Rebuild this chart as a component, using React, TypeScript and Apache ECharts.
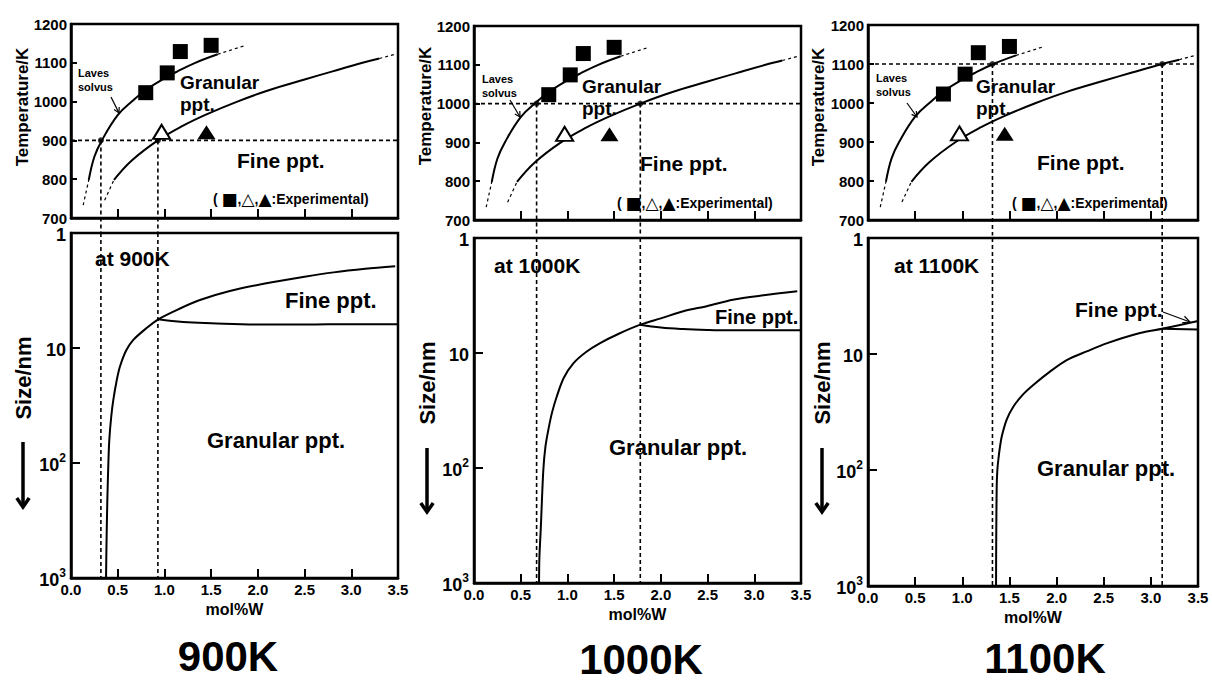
import React, { useEffect, useRef } from 'react';
import * as echarts from 'echarts';

const FONT = '"Liberation Sans", Arial, "DejaVu Sans", sans-serif';

// ---------- data ----------
const panelTemps = [900, 1000, 1100];
const panelTitles = ['900K', '1000K', '1100K'];
const atLabels = ['at 900K', 'at 1000K', 'at 1100K'];
const tempTicks = [700, 800, 900, 1000, 1100, 1200];
const molTicks = [0, 0.5, 1.0, 1.5, 2.0, 2.5, 3.0, 3.5];

// Top diagrams (mol%W, Temperature/K)
const lavesSolid = [[0.19, 798], [0.25, 858], [0.33, 900], [0.5, 965], [0.66, 1002], [0.8, 1030], [1.0, 1060], [1.14, 1078], [1.33, 1100], [1.57, 1122]];
const lavesDashLow = [[0.13, 733], [0.19, 798]];
const lavesDashHigh = [[1.57, 1122], [1.87, 1145]];
const boundarySolid = [[0.46, 798], [0.65, 848], [0.93, 900], [1.2, 938], [1.45, 967], [1.78, 1000], [2.1, 1028], [2.5, 1057], [2.8, 1078], [3.12, 1100], [3.3, 1111]];
const boundaryDashLow = [[0.36, 746], [0.46, 798]];
const boundaryDashHigh = [[3.3, 1111], [3.47, 1122]];
const expSquares = [[0.80, 1023], [1.03, 1074], [1.17, 1129], [1.50, 1145]];
const expOpenTriangles = [[0.97, 922]];
const expFilledTriangles = [[1.45, 921]];
const crossings = [
  [0.32, 0.93],
  [0.67, 1.78],
  [1.32, 3.12],
];

// Bottom diagrams (mol%W, Size/nm)
const sizeUpper = [
  [[0.375, 1000], [0.38, 500], [0.389, 209], [0.4, 100], [0.41, 63], [0.43, 40], [0.453, 28.3], [0.49, 19], [0.524, 14.5], [0.59, 10.5], [0.667, 8.5], [0.8, 6.8], [0.934, 5.63], [1.15, 4.6], [1.38, 3.83], [1.7, 3.2], [2.09, 2.74], [2.5, 2.4], [2.81, 2.2], [3.15, 2.05], [3.47, 1.95]],
  [[0.696, 1000], [0.7, 600], [0.714, 346], [0.742, 104], [0.765, 65], [0.795, 46.8], [0.835, 33], [0.885, 24], [0.96, 16.5], [1.063, 12.3], [1.2, 9.8], [1.35, 8.2], [1.55, 6.8], [1.78, 5.67], [2.0, 5.0], [2.24, 4.34], [2.5, 3.9], [2.77, 3.44], [3.1, 3.15], [3.46, 2.91]],
  [[1.358, 1000], [1.36, 400], [1.365, 139], [1.372, 100], [1.382, 82], [1.4, 63], [1.418, 51.6], [1.47, 37], [1.541, 28.5], [1.64, 22.5], [1.753, 18.5], [1.93, 14.2], [2.107, 11.3], [2.32, 9.5], [2.53, 8.1], [2.885, 6.6], [3.12, 6.05], [3.5, 5.2]],
];
const sizeLower = [
  [[0.934, 5.63], [1.2, 5.95], [1.5, 6.1], [2.0, 6.25], [2.5, 6.25], [3.0, 6.2], [3.5, 6.2]],
  [[1.78, 5.67], [2.0, 6.0], [2.24, 6.19], [2.5, 6.3], [2.77, 6.35], [3.1, 6.35], [3.5, 6.35]],
  [[3.12, 6.05], [3.5, 6.15]],
];

// ---------- layout ----------
const topGrids = [
  { left: 71, top: 24, width: 327, height: 194 },
  { left: 474, top: 26, width: 327, height: 194 },
  { left: 868, top: 25, width: 330, height: 195 },
];
const botGrids = [
  { left: 71, top: 233, width: 327, height: 345 },
  { left: 474, top: 238, width: 327, height: 345 },
  { left: 868, top: 238, width: 330, height: 348 },
];

function txt(x: number, y: number, text: string, size: number, align = 'left', rotation = 0, rich?: any) {
  const style: any = { text, fill: '#000', fontSize: size, fontWeight: 'bold', fontFamily: FONT, align, verticalAlign: 'middle' };
  if (rich) style.rich = rich;
  return { type: 'text', x, y, rotation, silent: true, z: 20, style };
}

function arrow(x1: number, y1: number, x2: number, y2: number, head: number, w: number, spread = 0.45) {
  const a = Math.atan2(y2 - y1, x2 - x1);
  const h1 = [x2 - head * Math.cos(a - spread), y2 - head * Math.sin(a - spread)];
  const h2 = [x2 - head * Math.cos(a + spread), y2 - head * Math.sin(a + spread)];
  return [
    { type: 'line', silent: true, z: 20, shape: { x1, y1, x2, y2 }, style: { stroke: '#000', lineWidth: w } },
    { type: 'polyline', silent: true, z: 20, shape: { points: [h1, [x2, y2], h2] }, style: { stroke: '#000', lineWidth: w, fill: null } },
  ];
}

function lineSeries(data: number[][], ai: number, dashed: boolean, width: number, extra: any = {}) {
  return {
    type: 'line', xAxisIndex: ai, yAxisIndex: ai, data, symbol: 'none', silent: true,
    smooth: dashed ? false : 0.4, z: 3,
    lineStyle: { color: '#000', width, type: dashed ? [3, 3] : 'solid' },
    ...extra,
  };
}

function buildOption() {
  const grid: any[] = [];
  const xAxis: any[] = [];
  const yAxis: any[] = [];
  const series: any[] = [];
  const graphic: any[] = [];

  const axisLine = { show: true, lineStyle: { color: '#000', width: 2.5 } };
  const guide = { color: '#000', width: 1.6, type: [4, 3] };

  for (let p = 0; p < 3; p++) {
    const T = panelTemps[p];
    const ti = 2 * p;
    const bi = 2 * p + 1;
    grid.push({ ...topGrids[p], show: true, borderColor: '#000', borderWidth: 2.5, backgroundColor: 'transparent' });
    grid.push({ ...botGrids[p], show: true, borderColor: '#000', borderWidth: 2.5, backgroundColor: 'transparent' });

    // top axes
    xAxis.push({
      type: 'value', gridIndex: ti, min: molTicks[0], max: molTicks[molTicks.length - 1], interval: 0.5,
      axisLine, axisTick: { show: true, inside: true, length: 9, lineStyle: { color: '#000', width: 2 } },
      axisLabel: { show: false }, splitLine: { show: false },
    });
    yAxis.push({
      type: 'value', gridIndex: ti, min: tempTicks[0], max: tempTicks[tempTicks.length - 1], interval: 100,
      axisLine, axisTick: { show: true, inside: true, length: 6, lineStyle: { color: '#000', width: 2 } },
      axisLabel: {
        color: '#000', fontSize: 15, fontWeight: 'bold', fontFamily: FONT, margin: 4,
        showMinLabel: true, showMaxLabel: true, formatter: (v: number) => String(v),
      },
      splitLine: { show: false },
    });
    // bottom axes
    xAxis.push({
      type: 'value', gridIndex: bi, min: molTicks[0], max: molTicks[molTicks.length - 1], interval: 0.5,
      axisLine, axisTick: { show: true, inside: true, length: 9, lineStyle: { color: '#000', width: 2 } },
      axisLabel: {
        color: '#000', fontSize: 15, fontWeight: 'bold', fontFamily: FONT, margin: 4,
        showMinLabel: true, showMaxLabel: true, formatter: (v: number) => v.toFixed(1),
      },
      splitLine: { show: false },
      name: 'mol%W', nameLocation: 'middle', nameGap: 22,
      nameTextStyle: { color: '#000', fontSize: 16, fontWeight: 'bold', fontFamily: FONT },
    });
    yAxis.push({
      type: 'log', logBase: 10, gridIndex: bi, min: 1, max: 1000, inverse: true,
      axisLine, axisTick: { show: true, inside: true, length: 9, lineStyle: { color: '#000', width: 2 } },
      minorTick: { show: false }, splitLine: { show: false },
      axisLabel: {
        margin: 5, showMinLabel: true, showMaxLabel: true,
        formatter: (v: number) => {
          const e = Math.round(Math.log10(v));
          if (e === 0) return '{b|1}';
          if (e === 1) return '{b|10}';
          return `{b|10}{s|${e}}`;
        },
        rich: {
          b: { fontSize: 18, fontWeight: 'bold', fontFamily: FONT, color: '#000', lineHeight: 22, verticalAlign: 'bottom' },
          s: { fontSize: 12, fontWeight: 'bold', fontFamily: FONT, color: '#000', lineHeight: 12, verticalAlign: 'top' },
        },
      },
    });

    // top series
    series.push(lineSeries(lavesSolid, ti, false, 2));
    series.push(lineSeries(lavesDashLow, ti, true, 1.2));
    series.push(lineSeries(lavesDashHigh, ti, true, 1.2));
    series.push(lineSeries(boundarySolid, ti, false, 2));
    series.push(lineSeries(boundaryDashLow, ti, true, 1.2));
    series.push(lineSeries(boundaryDashHigh, ti, true, 1.2));
    series.push(lineSeries([[molTicks[0], T], [molTicks[molTicks.length - 1], T]], ti, true, 1.6, { lineStyle: guide }));
    crossings[p].forEach((cx) => {
      series.push(lineSeries([[cx, T], [cx, 660]], ti, true, 1.6, { clip: false, lineStyle: guide }));
      series.push(lineSeries([[cx, 1], [cx, 1000]], bi, true, 1.6, { lineStyle: guide }));
    });
    series.push({
      type: 'scatter', xAxisIndex: ti, yAxisIndex: ti, data: crossings[p].map((cx) => [cx, T]),
      symbol: 'circle', symbolSize: 6, itemStyle: { color: '#000' }, silent: true, z: 6,
    });
    series.push({
      type: 'scatter', xAxisIndex: ti, yAxisIndex: ti, data: expSquares,
      symbol: 'rect', symbolSize: 15, itemStyle: { color: '#000', opacity: 1 }, silent: true, z: 6,
    });
    series.push({
      type: 'scatter', xAxisIndex: ti, yAxisIndex: ti, data: expOpenTriangles,
      symbol: 'triangle', symbolSize: [17, 14], itemStyle: { color: '#fff', borderColor: '#000', borderWidth: 2, opacity: 1 }, silent: true, z: 6,
    });
    series.push({
      type: 'scatter', xAxisIndex: ti, yAxisIndex: ti, data: expFilledTriangles,
      symbol: 'triangle', symbolSize: [18, 14], itemStyle: { color: '#000', opacity: 1 }, silent: true, z: 6,
    });

    // bottom series
    series.push(lineSeries(sizeUpper[p], bi, false, 2, { smooth: 0.3 }));
    series.push(lineSeries(sizeLower[p], bi, false, 2));
  }

  // ---------- annotations ----------
  const topText = [
    { laves: [78, 73], arrow: [111, 97, 119, 113], gran: [180, 82], fine: [237, 160], exp: [213, 199] },
    { laves: [482, 79], arrow: [510, 100, 520, 117], gran: [582, 86], fine: [640, 163], exp: [617, 203] },
    { laves: [876, 78], arrow: [907, 103, 917, 117], gran: [976, 86], fine: [1037, 162], exp: [1012, 203] },
  ];
  const botText = [
    { at: [95, 258], fine: [285, 300, 22], gran: [207, 440] },
    { at: [494, 265], fine: [715, 317, 20], gran: [609, 447] },
    { at: [894, 265], fine: [1075, 309, 21], gran: [1037, 468] },
  ];
  const titlePos = [[228, 656], [641, 659], [1045, 658]];
  const tempNamePos = [[22, 107], [425, 106], [818, 107]];
  const sizeNamePos = [[23, 378], [427, 383], [822, 383]];
  const sizeArrow = [[23, 442, 507], [427, 448, 512], [822, 448, 512]];
  const symRich = {
    s: { fontSize: 17, fontFamily: '"DejaVu Sans", sans-serif', fontWeight: 'bold', fill: '#000' },
  };

  for (let p = 0; p < 3; p++) {
    const t = topText[p];
    graphic.push(txt(t.laves[0], t.laves[1], 'Laves', 11));
    graphic.push(txt(t.laves[0], t.laves[1] + 14, 'solvus', 11));
    graphic.push(...arrow(t.arrow[0], t.arrow[1], t.arrow[2], t.arrow[3], 6, 1.2, 0.5));
    graphic.push(txt(t.gran[0], t.gran[1], 'Granular', 19));
    graphic.push(txt(t.gran[0], t.gran[1] + 22, 'ppt.', 19));
    graphic.push(txt(t.fine[0], t.fine[1], 'Fine ppt.', 21));
    graphic.push(txt(t.exp[0], t.exp[1], '( {s|\u25A0},{s|\u25B3},{s|\u25B2}:Experimental)', 14, 'left', 0, symRich));

    const b = botText[p];
    graphic.push(txt(b.at[0], b.at[1], atLabels[p], 21));
    graphic.push(txt(b.fine[0], b.fine[1], 'Fine ppt.', b.fine[2]));
    graphic.push(txt(b.gran[0], b.gran[1], 'Granular ppt.', 22));

    graphic.push(txt(titlePos[p][0], titlePos[p][1], panelTitles[p], 42, 'center'));
    graphic.push(txt(tempNamePos[p][0], tempNamePos[p][1], 'Temperature/K', 17, 'center', Math.PI / 2));
    graphic.push(txt(sizeNamePos[p][0], sizeNamePos[p][1], 'Size/nm', 22, 'center', Math.PI / 2));
    const a = sizeArrow[p];
    graphic.push(...arrow(a[0], a[1], a[0], a[2], 11, 3.5, 0.6));
  }
  graphic.push(...arrow(1163, 312, 1190, 322, 8, 1.2, 0.45));

  return {
    animation: false,
    backgroundColor: '#fff',
    grid, xAxis, yAxis, series, graphic,
  };
}

export default function App() {
  const ref = useRef<HTMLDivElement>(null);
  useEffect(() => {
    const chart = echarts.init(ref.current as HTMLDivElement, null, { renderer: 'svg' });
    chart.setOption(buildOption() as any);
    return () => chart.dispose();
  }, []);
  return (
    <div
      ref={ref}
      style={{ position: 'absolute', left: 0, top: 0, width: 1212, height: 681, background: '#fff' }}
    />
  );
}
